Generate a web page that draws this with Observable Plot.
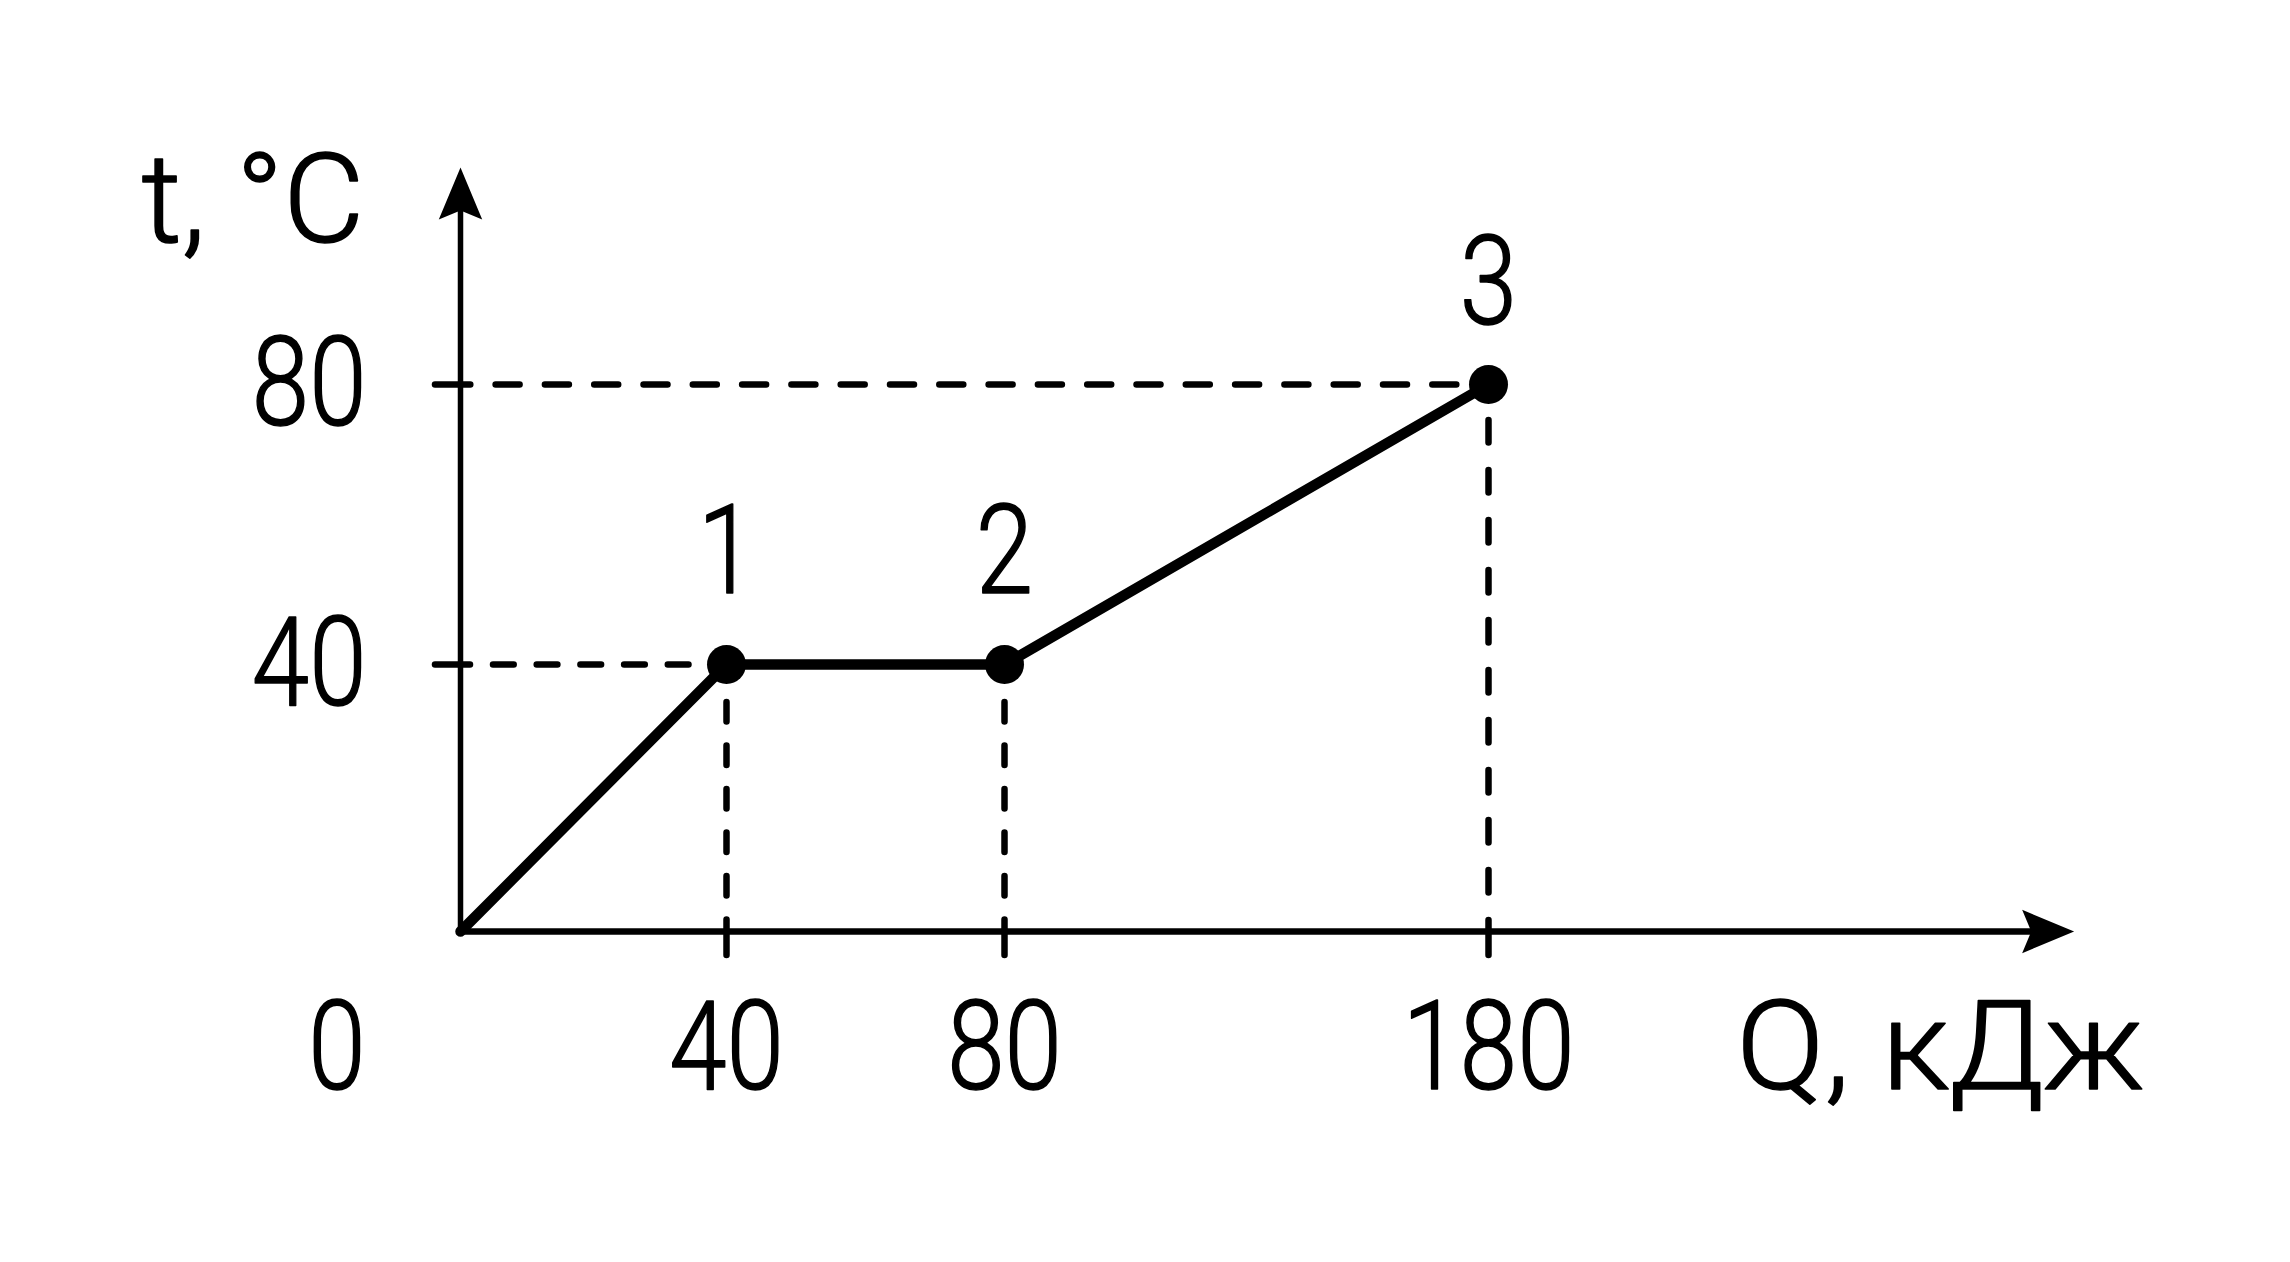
<!DOCTYPE html>
<html>
<head>
<meta charset="utf-8">
<script src="https://cdn.jsdelivr.net/npm/d3@7"></script>
<script src="https://cdn.jsdelivr.net/npm/@observablehq/plot@0.6"></script>
<style>
  html, body { margin: 0; padding: 0; background: #fff; overflow: hidden; }
</style>
</head>
<body>
<div id="chart"></div>
<script>
// ---- data ----
const Q = [0, 40, 80, 180];          // heat, kJ
const T = [0, 40, 40, 80];           // temperature, °C
const pointLabels = ["1", "2", "3"]; // labels of points 1..3
const xTicks = [40, 80, 180];
const yTicks = [40, 80];
const qAxisEnd = 301;                // where the Q axis arrow ends
const tAxisEnd = 111;                // where the t axis arrow ends
const xLabel = "Q, кДж";
const yLabel = "t, °C";
const originLabel = "0";

const data = Q.map((q, i) => ({Q: q, t: T[i]}));
const points = data.slice(1).map((d, i) => ({...d, label: pointLabels[i]}));

const FONT = "Roboto, 'DejaVu Sans', sans-serif";
const FS = 125;
const FW = 300;

// filled, notched arrowhead symbol (tip at origin, pointing up)
const arrowHead = {
  draw(ctx, size) {
    const r = Math.sqrt(size / Math.PI);
    const L = 2 * r, w = 0.835 * r, n = 1.65 * r;
    ctx.moveTo(0, 0);
    ctx.lineTo(w, L);
    ctx.lineTo(0, n);
    ctx.lineTo(-w, L);
    ctx.closePath();
  }
};

const textStyle = {fontSize: FS, fontFamily: FONT, fontWeight: FW, fill: "#000"};

const chart = Plot.plot({
  width: 2290,
  height: 1262,
  marginLeft: 460,
  marginBottom: 331,
  marginTop: 100,
  marginRight: 150,
  style: {background: "#fff", color: "#000"},
  x: {type: "linear", domain: Q, range: [460, 726, 1004, 1488]},
  y: {type: "linear", domain: [0, 40, 80], range: [931, 664, 384]},
  marks: [
    // axes
    Plot.ruleX([0], {x: d => d, y1: tAxisEnd, y2: 0, stroke: "#000", strokeWidth: 5.5, insetTop: 20}),
    Plot.ruleY([0], {y: d => d, x1: 0, x2: qAxisEnd, stroke: "#000", strokeWidth: 6.5, insetRight: 20, strokeLinecap: "square"}),
    Plot.dot([{Q: 0, t: tAxisEnd}], {x: "Q", y: "t", symbol: arrowHead, r: 26, fill: "#000", stroke: "none"}),
    Plot.dot([{Q: qAxisEnd, t: 0}], {x: "Q", y: "t", symbol: arrowHead, r: 26, fill: "#000", stroke: "none", rotate: 90}),
    Plot.axisY({ticks: yTicks, tickSize: 25, tickPadding: 69, label: null, strokeWidth: 6.5, strokeLinecap: "round",
                stroke: "#000", ...textStyle}),
    Plot.axisX({ticks: xTicks, tickSize: 24, tickPadding: 45, label: null, strokeWidth: 6.5, strokeLinecap: "round",
                stroke: "#000", ...textStyle}),
    // dashed guides
    Plot.ruleY(points.filter(d => d.Q === 40), {y: "t", x1: 0, x2: "Q", stroke: "#000", strokeWidth: 6.5,
                strokeDasharray: "20.7,23", strokeDashoffset: 10.7, strokeLinecap: "round"}),
    Plot.ruleY(points.filter(d => d.Q === 180), {y: "t", x1: 0, x2: "Q", stroke: "#000", strokeWidth: 6.5,
                strokeDasharray: "24,25.3", strokeDashoffset: 13.7, strokeLinecap: "round"}),
    Plot.ruleX(points.filter(d => d.Q < 180), {x: "Q", y1: 0, y2: "t", stroke: "#000", strokeWidth: 6.5,
                strokeDasharray: "19.5,24", strokeDashoffset: 8, strokeLinecap: "round"}),
    Plot.ruleX(points.filter(d => d.Q === 180), {x: "Q", y1: 0, y2: "t", stroke: "#000", strokeWidth: 6.5,
                strokeDasharray: "22.5,27.5", strokeDashoffset: 11.5, strokeLinecap: "round"}),
    // the graph
    Plot.line(data, {x: "Q", y: "t", stroke: "#000", strokeWidth: 10.5, strokeLinejoin: "round"}),
    Plot.dot(points, {x: "Q", y: "t", r: 19.5, fill: "#000", stroke: "none"}),
    // point labels
    Plot.text(points.filter(d => d.Q < 180), {x: "Q", y: "t", text: "label", dy: -72, lineAnchor: "bottom", ...textStyle}),
    Plot.text(points.filter(d => d.Q === 180), {x: "Q", y: "t", text: "label", dy: -61, lineAnchor: "bottom", ...textStyle}),
    // axis titles and origin label
    Plot.text([yLabel], {x: 0, y: tAxisEnd, text: d => d, textAnchor: "end", lineAnchor: "bottom", dx: -96, dy: 74, ...textStyle}),
    Plot.text([xLabel], {x: qAxisEnd, y: 0, text: d => d, textAnchor: "end", lineAnchor: "top", dx: 70, dy: 69, ...textStyle}),
    Plot.text([originLabel], {x: 0, y: 0, text: d => d, textAnchor: "end", lineAnchor: "top", dx: -95, dy: 69, ...textStyle})
  ]
});
document.getElementById("chart").appendChild(chart);

// Narrow the glyphs horizontally (about each text's anchor) and thicken them a
// little so the lettering matches the condensed face of the original.
(function condense() {
  const texts = Array.from(chart.querySelectorAll("text"));
  const target = {"180": 172, "Q, кДж": 408, "t, °C": 224};
  const widthOf = s => { const el = texts.find(t => t.textContent === s); return el ? el.getBBox().width : null; };
  const w180 = widthOf("180");
  const sDigits = w180 ? Math.min(1, target["180"] / w180) : 1;
  for (const el of texts) {
    const s = el.textContent;
    el.setAttribute("stroke", "#000");
    el.setAttribute("stroke-width", "1.6");
    el.setAttribute("stroke-linejoin", "round");
    let k = /^\d+$/.test(s) ? sDigits : (target[s] ? Math.min(1.05, target[s] / el.getBBox().width) : 1);
    if (Math.abs(k - 1) < 0.005) continue;
    const tr = el.getAttribute("transform");
    if (tr) {
      el.setAttribute("transform", tr + ` scale(${k},1)`);
    } else {
      const x = +el.getAttribute("x") || 0;
      el.setAttribute("x", x / k);
      el.setAttribute("transform", `scale(${k},1)`);
    }
  }
})();
</script>
</body>
</html>
